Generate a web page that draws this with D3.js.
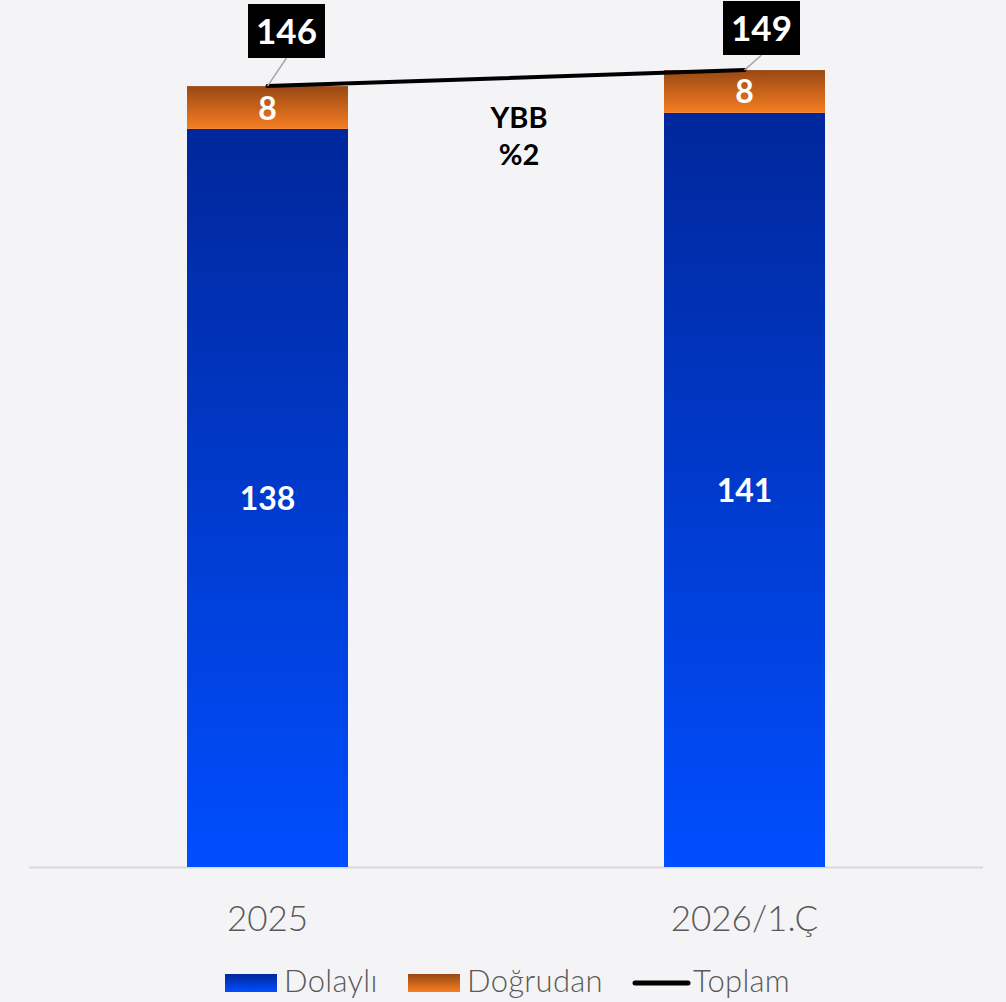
<!DOCTYPE html>
<html>
<head>
<meta charset="utf-8">
<script src="https://cdn.jsdelivr.net/npm/d3@7"></script>
<style>
  body { margin: 0; background: #f4f4f6; }
  svg { display: block; font-family: Lato, "Noto Sans", sans-serif; }
</style>
</head>
<body>
<svg></svg>
<script>
var categories = ["2025", "2026/1.Ç"];
var dolayli = [138, 141];
var dogrudan = [8, 8];
var toplam = [146, 149];
var ybbLines = ["YBB", "%2"];
var legendNames = ["Dolaylı", "Doğrudan", "Toplam"];

var width = 1006, height = 1002;
var svg = d3.select("svg").attr("width", width).attr("height", height);

var x = d3.scaleBand().domain(categories).range([29, 983])
    .paddingInner(0.6625).paddingOuter(0.33125);
var y = d3.scaleLinear().domain([0, 162.1]).range([867, 0]);

var defs = svg.append("defs");
function grad(id, top, bottom) {
    var g = defs.append("linearGradient").attr("id", id)
        .attr("x1", 0).attr("y1", 0).attr("x2", 0).attr("y2", 1);
    g.append("stop").attr("offset", "0%").attr("stop-color", top);
    g.append("stop").attr("offset", "100%").attr("stop-color", bottom);
}
grad("gBlue", "#00279b", "#004eff");
grad("gOrange", "#994813", "#f67e22");

svg.append("rect").attr("width", width).attr("height", height).attr("fill", "#f4f4f6");

// axis line
svg.append("line").attr("x1", 29).attr("x2", 983).attr("y1", 867.5).attr("y2", 867.5)
    .attr("stroke", "#d9d9d9").attr("stroke-width", 2);

// bars
svg.selectAll("rect.dolayli").data(categories).enter().append("rect")
    .attr("class", "dolayli")
    .attr("x", d => x(d)).attr("width", x.bandwidth())
    .attr("y", (d, i) => y(dolayli[i])).attr("height", (d, i) => y(0) - y(dolayli[i]))
    .attr("fill", "url(#gBlue)");

svg.selectAll("rect.dogrudan").data(categories).enter().append("rect")
    .attr("class", "dogrudan")
    .attr("x", d => x(d)).attr("width", x.bandwidth())
    .attr("y", (d, i) => y(dolayli[i] + dogrudan[i]))
    .attr("height", (d, i) => y(dolayli[i]) - y(dolayli[i] + dogrudan[i]))
    .attr("fill", "url(#gOrange)");

// values in bars
svg.selectAll("text.vDol").data(categories).enter().append("text")
    .attr("x", d => x(d) + x.bandwidth() / 2)
    .attr("y", (d, i) => (y(dolayli[i]) + y(0)) / 2 + 12)
    .attr("text-anchor", "middle").attr("fill", "#fff")
    .attr("font-size", 32).attr("font-weight", "bold")
    .text((d, i) => dolayli[i]);

svg.selectAll("text.vDog").data(categories).enter().append("text")
    .attr("x", d => x(d) + x.bandwidth() / 2)
    .attr("y", (d, i) => (y(dolayli[i]) + y(dolayli[i] + dogrudan[i])) / 2 + 12)
    .attr("text-anchor", "middle").attr("fill", "#fff")
    .attr("font-size", 32).attr("font-weight", "bold")
    .text((d, i) => dogrudan[i]);

// total line
var line = d3.line()
    .x(d => x(d.c) + x.bandwidth() / 2)
    .y(d => y(d.v));
var pts = categories.map((c, i) => ({ c: c, v: toplam[i] }));
svg.append("path").attr("d", line(pts))
    .attr("fill", "none").attr("stroke", "#000").attr("stroke-width", 4)
    .attr("stroke-linecap", "round");

// total labels with leader lines
var boxOff = [{ dx: 19, top: 4 }, { dx: 17, top: 1 }];
pts.forEach(function (p, i) {
    var cx = x(p.c) + x.bandwidth() / 2;
    var bx = cx + boxOff[i].dx;
    var top = boxOff[i].top;
    svg.append("line").attr("x1", cx).attr("y1", y(p.v))
        .attr("x2", bx).attr("y2", top + 54)
        .attr("stroke", "#a6a6a6").attr("stroke-width", 1.5);
    svg.append("rect").attr("x", bx - 38.5).attr("y", top)
        .attr("width", 77).attr("height", 54).attr("fill", "#000");
    svg.append("text").attr("x", bx).attr("y", top + 40)
        .attr("text-anchor", "middle").attr("fill", "#fff")
        .attr("font-size", 35).attr("font-weight", "bold")
        .text(p.v);
});

// YBB note
var midX = (x(categories[0]) + x(categories[1]) + x.bandwidth()) / 2 + 13;
svg.selectAll("text.ybb").data(ybbLines).enter().append("text")
    .attr("x", midX)
    .attr("y", (d, i) => 128 + i * 37)
    .attr("text-anchor", "middle").attr("fill", "#000")
    .attr("font-size", 29).attr("font-weight", "bold")
    .text(d => d);

// x labels
svg.selectAll("text.xl").data(categories).enter().append("text")
    .attr("x", d => x(d) + x.bandwidth() / 2)
    .attr("y", 931)
    .attr("text-anchor", "middle").attr("fill", "#595959")
    .attr("font-size", 35).attr("font-weight", 300)
    .text(d => d);

// legend
var lg = svg.append("g");
lg.append("rect").attr("x", 225).attr("y", 974).attr("width", 52).attr("height", 18).attr("fill", "url(#gBlue)");
lg.append("rect").attr("x", 408).attr("y", 974).attr("width", 52).attr("height", 18).attr("fill", "url(#gOrange)");
lg.append("line").attr("x1", 635).attr("x2", 688).attr("y1", 983).attr("y2", 983)
    .attr("stroke", "#000").attr("stroke-width", 5).attr("stroke-linecap", "round");
var legTextX = [284, 467, 693];
lg.selectAll("text").data(legendNames).enter().append("text")
    .attr("x", (d, i) => legTextX[i])
    .attr("y", 992)
    .attr("fill", "#595959").attr("font-size", 31).attr("font-weight", 300)
    .attr("letter-spacing", 0.3)
    .text(d => d);
</script>
</body>
</html>
